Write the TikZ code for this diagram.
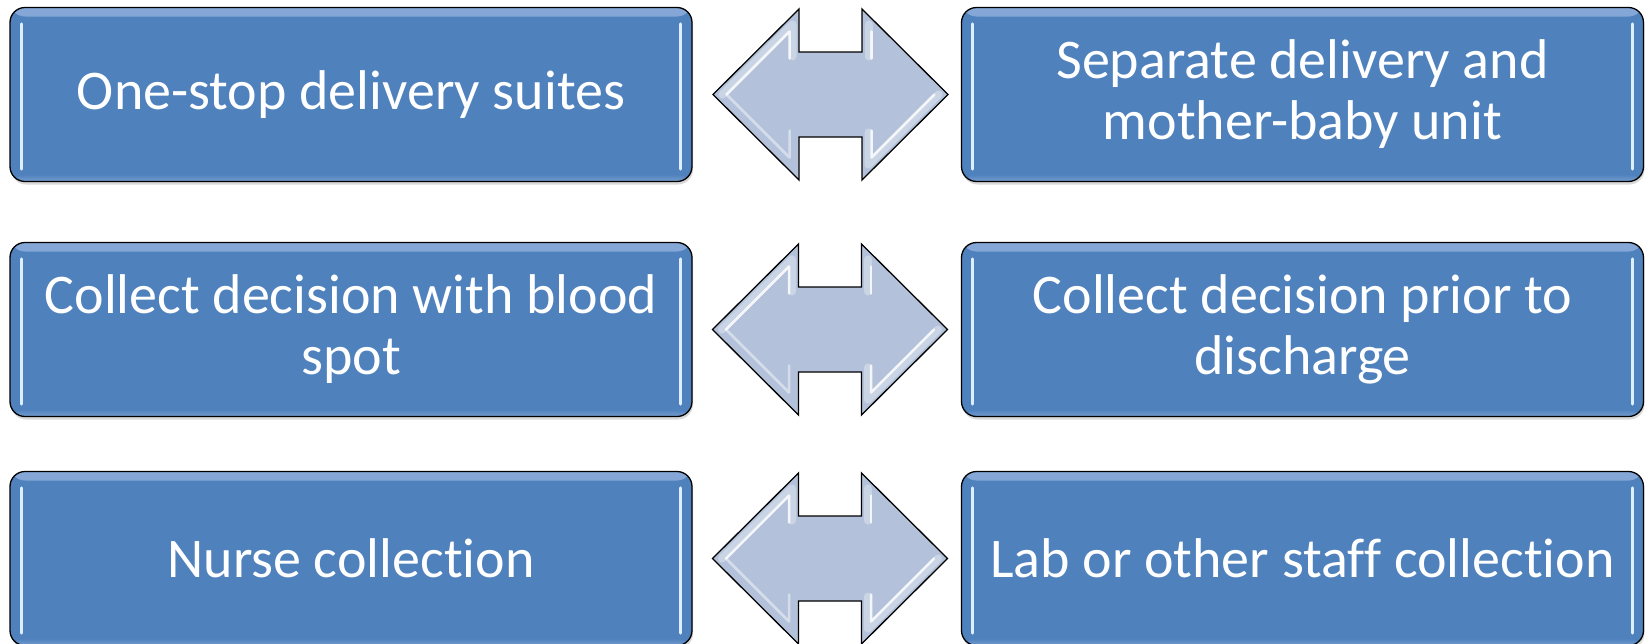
\documentclass[tikz,border=0pt]{standalone}
\usepackage{fontspec}
\setmainfont{Carlito}[Ligatures={NoCommon}]
\usetikzlibrary{shadows,calc}
\definecolor{boxblue}{HTML}{4F81BD}
\definecolor{boxlight}{HTML}{86A8D8}
\definecolor{arrowfill}{HTML}{B3C2DA}
\definecolor{glint}{HTML}{DDEEFF}
\begin{document}
\begin{tikzpicture}[x=1pt,y=-1pt,
  gbox/.style={draw=black, line width=1.3pt, fill=boxblue, rounded corners=15pt,
    minimum width=682pt, minimum height=174pt, inner sep=0pt, text=white,
    font=\fontsize{56}{61}\selectfont, align=center,
    drop shadow={opacity=0.3, shadow xshift=1pt, shadow yshift=-3pt},
    path picture={
      \shade[top color=boxlight, bottom color=boxblue]
        (path picture bounding box.north west) rectangle ([yshift=-9pt]path picture bounding box.north east);
      \shade[bottom color=boxlight!70!boxblue, top color=boxblue]
        ([yshift=7pt]path picture bounding box.south west) rectangle (path picture bounding box.south east);
    }},
  glintline/.style={glint, line width=3pt, line cap=round},
  garrow/.style={draw=black, line width=1.3pt, fill=arrowfill, line join=miter},
  bevglow/.style={white, opacity=0.3, line width=8pt, line cap=round, line join=round},
  bev/.style={white, opacity=0.8, line width=2.5pt, line cap=round, line join=round},
  bevsoft/.style={white, opacity=0.45, line width=2.5pt, line cap=round, line join=round}]

\node[gbox] (L1) at (351,94.5) {One-stop delivery suites};
\node[gbox] (R1) at (1302.5,94.5) {Separate delivery and\\mother-baby unit};
\node[gbox] (L2) at (351,329.5) {Collect decision with blood\\spot};
\node[gbox] (R2) at (1302.5,329.5) {Collect decision prior to\\discharge};
\node[gbox] (L3) at (351,558.5) {Nurse collection};
\node[gbox] (R3) at (1302.5,558.5) {Lab or other staff collection};

\foreach \b in {L1,R1,L2,R2,L3,R3}{
  \draw[glintline] ([xshift=12pt,yshift=-17pt]\b.north west) -- ([xshift=12pt,yshift=13pt]\b.south west);
  \draw[glintline] ([xshift=-12pt,yshift=-17pt]\b.north east) -- ([xshift=-12pt,yshift=13pt]\b.south east);
}

\coordinate (A1) at (830.5,94.5);
\coordinate (A2) at (830,329.5);
\coordinate (A3) at (830,558.5);

\foreach \a in {A1,A2,A3}{
  \begin{scope}[shift={(\a)}]
    \draw[garrow] (-117.5,0) -- (-31.5,-85.5) -- (-31.5,-42.5) -- (31.5,-42.5) -- (31.5,-85.5)
      -- (117.5,0) -- (31.5,85.5) -- (31.5,42.5) -- (-31.5,42.5) -- (-31.5,85.5) -- cycle;
    \draw[bevglow] (-108,0) -- (-38,-70) -- (-38,-38);
    \draw[bevglow] (38,-38) -- (38,-70);
    \draw[bevglow] (108,0) -- (38,70) -- (38,38);
    \draw[bev] (-104,0) -- (-41,-63) -- (-41,-36);
    \draw[bevsoft] (-104,0) -- (-41,63) -- (-41,36);
    \draw[bev] (41,-36) -- (41,-63);
    \draw[bev] (104,0) -- (41,63) -- (41,36);
  \end{scope}
}
\pgfresetboundingbox
\useasboundingbox (0,0) rectangle (1649,643);
\end{tikzpicture}
\end{document}
